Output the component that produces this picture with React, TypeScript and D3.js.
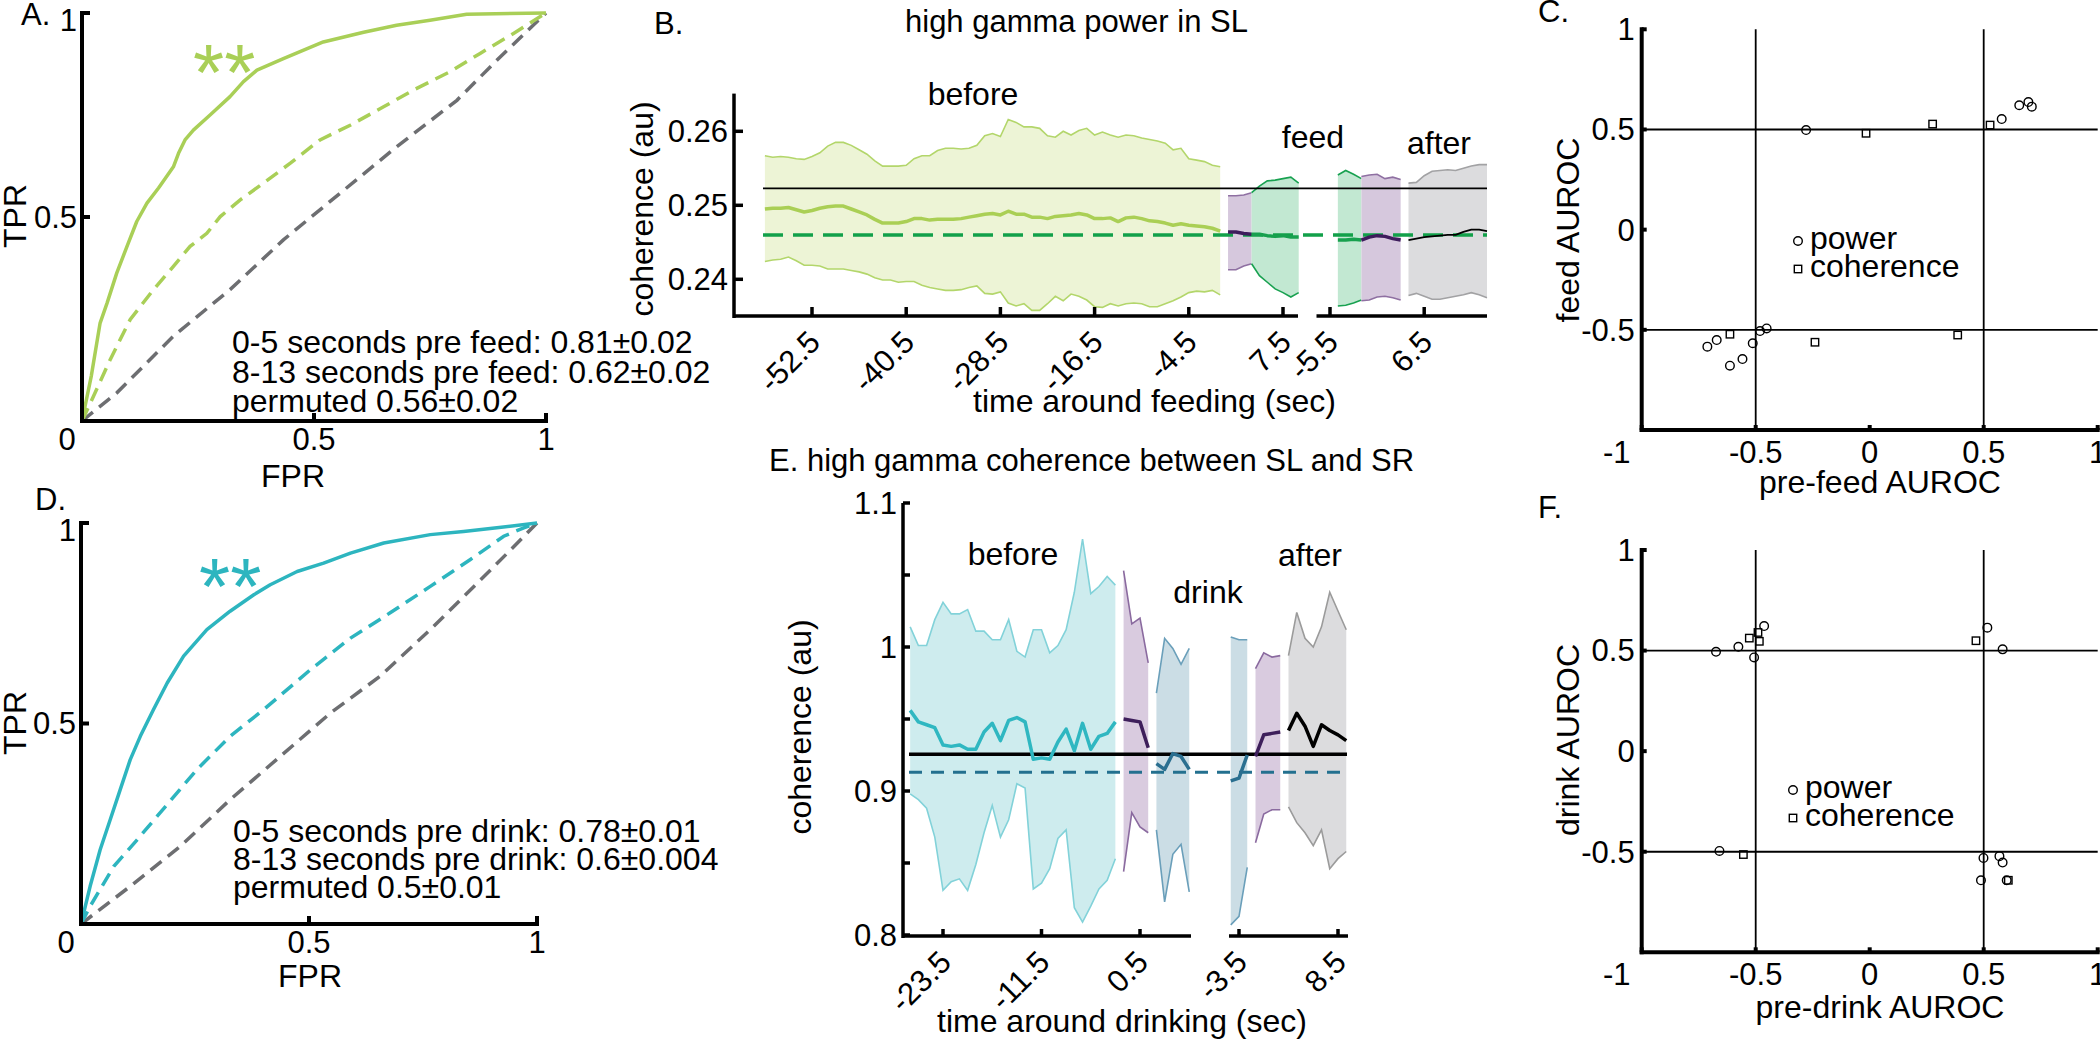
import React from 'react';
import * as d3 from 'd3';

const FONT = "'Liberation Sans', Arial, Helvetica, sans-serif";

// ---------- A: ROC around feeding ----------
const aSolidFpr = [0, 0.02, 0.039, 0.054, 0.075, 0.097, 0.118, 0.14, 0.165, 0.197, 0.208, 0.222, 0.24, 0.276, 0.319, 0.348, 0.377, 0.434, 0.52, 0.607, 0.678, 0.75, 0.829, 1];
const aSolidTpr = [0, 0.11, 0.24, 0.289, 0.363, 0.428, 0.489, 0.534, 0.571, 0.623, 0.656, 0.689, 0.713, 0.75, 0.795, 0.832, 0.86, 0.888, 0.929, 0.953, 0.97, 0.982, 0.997, 1];
const aDashFpr = [0, 0.025, 0.061, 0.104, 0.154, 0.197, 0.233, 0.269, 0.298, 0.341, 0.391, 0.449, 0.513, 0.578, 0.65, 0.714, 0.793, 0.858, 0.93, 1];
const aDashTpr = [0, 0.061, 0.151, 0.249, 0.322, 0.379, 0.428, 0.46, 0.501, 0.542, 0.583, 0.632, 0.689, 0.725, 0.77, 0.811, 0.856, 0.901, 0.95, 1];
const aChanceFpr = [0, 0.075, 0.197, 0.319, 0.434, 0.556, 0.678, 0.808, 0.894, 1];
const aChanceTpr = [0, 0.069, 0.208, 0.322, 0.444, 0.558, 0.672, 0.786, 0.884, 1];
const aNotes = ['0-5 seconds pre feed: 0.81\u00b10.02', '8-13 seconds pre feed: 0.62\u00b10.02', 'permuted 0.56\u00b10.02'];

// ---------- D: ROC around drinking ----------
const dSolidFpr = [0, 0.02, 0.042, 0.064, 0.086, 0.108, 0.13, 0.159, 0.189, 0.225, 0.276, 0.327, 0.379, 0.415, 0.474, 0.532, 0.591, 0.664, 0.766, 0.839, 0.912, 1];
const dSolidTpr = [0, 0.094, 0.185, 0.26, 0.335, 0.41, 0.468, 0.535, 0.601, 0.668, 0.734, 0.78, 0.821, 0.846, 0.879, 0.9, 0.925, 0.95, 0.971, 0.979, 0.988, 1];
const dDashFpr = [0, 0.02, 0.072, 0.123, 0.189, 0.254, 0.327, 0.401, 0.503, 0.591, 0.678, 0.766, 0.854, 0.927, 0.971, 1];
const dDashTpr = [0, 0.044, 0.144, 0.21, 0.298, 0.385, 0.468, 0.535, 0.634, 0.713, 0.776, 0.842, 0.909, 0.967, 0.988, 1];
const dChanceFpr = [0, 0.108, 0.218, 0.327, 0.437, 0.547, 0.656, 0.766, 0.877, 0.95, 1];
const dChanceTpr = [0, 0.094, 0.194, 0.31, 0.418, 0.526, 0.618, 0.734, 0.859, 0.942, 1];
const dNotes = ['0-5 seconds pre drink: 0.78\u00b10.01', '8-13 seconds pre drink: 0.6\u00b10.004', 'permuted 0.5\u00b10.01'];

const rocTicks = [0, 0.5, 1];

// ---------- B: high gamma power in SL (1 s bins) ----------
const bBeforeMean = [0.2495, 0.2496, 0.2496, 0.2497, 0.2494, 0.2491, 0.2493, 0.2496, 0.2498, 0.2499, 0.2499, 0.2495, 0.2491, 0.2487, 0.2481, 0.2476, 0.2476, 0.2476, 0.2478, 0.2482, 0.2482, 0.248, 0.2481, 0.2481, 0.2481, 0.2482, 0.2484, 0.2486, 0.2488, 0.2489, 0.2487, 0.2492, 0.2488, 0.2488, 0.2484, 0.2484, 0.2482, 0.2485, 0.2486, 0.2487, 0.2489, 0.2487, 0.2482, 0.2482, 0.2483, 0.2478, 0.2483, 0.2484, 0.2482, 0.2479, 0.2478, 0.2476, 0.2473, 0.2475, 0.2473, 0.2472, 0.2471, 0.2469, 0.2465];
const bBeforeUpper = [0.2567, 0.2565, 0.2566, 0.2565, 0.2563, 0.2562, 0.2566, 0.2571, 0.258, 0.2585, 0.2585, 0.2581, 0.2575, 0.2569, 0.256, 0.2553, 0.2553, 0.2553, 0.2554, 0.2563, 0.2567, 0.2567, 0.2574, 0.2577, 0.2577, 0.2576, 0.2577, 0.2581, 0.2594, 0.2597, 0.2593, 0.2616, 0.2612, 0.2606, 0.2606, 0.2604, 0.2594, 0.2592, 0.26, 0.2595, 0.2601, 0.2604, 0.2595, 0.2599, 0.2595, 0.2592, 0.2595, 0.2594, 0.2591, 0.2589, 0.2587, 0.2584, 0.2575, 0.2577, 0.2563, 0.2561, 0.2559, 0.2554, 0.2552];
const bBeforeLower = [0.2424, 0.2426, 0.2427, 0.243, 0.2425, 0.2419, 0.2419, 0.2418, 0.2414, 0.2414, 0.2414, 0.2412, 0.241, 0.2407, 0.2402, 0.2399, 0.2399, 0.2396, 0.2397, 0.2397, 0.2392, 0.2389, 0.2387, 0.2385, 0.2385, 0.2386, 0.2389, 0.2391, 0.2381, 0.238, 0.2383, 0.2368, 0.2364, 0.2367, 0.2358, 0.2358, 0.2367, 0.2377, 0.2371, 0.238, 0.2377, 0.2372, 0.2363, 0.2362, 0.2367, 0.2364, 0.2367, 0.2368, 0.2367, 0.2363, 0.2363, 0.2367, 0.2371, 0.2376, 0.2382, 0.2384, 0.2383, 0.2385, 0.2379];
const bOnsetMean = [0.2464, 0.2464, 0.2462, 0.2461];
const bOnsetUpper = [0.2513, 0.2513, 0.2514, 0.2517];
const bOnsetLower = [0.2413, 0.2413, 0.2418, 0.2421];
const bFeedMean = [0.2461, 0.2461, 0.2459, 0.2458, 0.2459, 0.2457, 0.2457];
const bFeedUpper = [0.2517, 0.2526, 0.2533, 0.2534, 0.2536, 0.2538, 0.253];
const bFeedLower = [0.2421, 0.2405, 0.2396, 0.2387, 0.2382, 0.2376, 0.2382];
const bEndMean = [0.2453, 0.2453, 0.2454, 0.2453];
const bEndUpper = [0.2541, 0.2547, 0.2542, 0.2536];
const bEndLower = [0.2364, 0.2365, 0.2368, 0.2372];
const bOffsetMean = [0.2453, 0.2457, 0.2459, 0.2458, 0.2455, 0.2453];
const bOffsetUpper = [0.2539, 0.2541, 0.2542, 0.2536, 0.2538, 0.2535];
const bOffsetLower = [0.2371, 0.2372, 0.2376, 0.2377, 0.2375, 0.2372];
const bAfterMean = [0.2453, 0.2455, 0.2457, 0.2458, 0.2459, 0.246, 0.246, 0.2464, 0.2467, 0.2467, 0.2465];
const bAfterUpper = [0.253, 0.2531, 0.254, 0.2546, 0.2547, 0.2548, 0.2547, 0.255, 0.2553, 0.2555, 0.2555];
const bAfterLower = [0.2378, 0.2381, 0.2377, 0.2373, 0.2373, 0.2375, 0.2377, 0.2379, 0.2382, 0.2379, 0.2375];
const bBaseline = 0.2523;
const bShuffled = 0.246;
const bTicksSeg1 = [-52.5, -40.5, -28.5, -16.5, -4.5, 7.5];
const bTicksSeg2 = [-5.5, 6.5];
const bYTicks = [0.24, 0.25, 0.26];

// ---------- E: high gamma coherence SL-SR (1 s bins) ----------
const eBeforeMean = [0.956, 0.948, 0.946, 0.944, 0.932, 0.931, 0.932, 0.929, 0.929, 0.941, 0.947, 0.935, 0.949, 0.951, 0.948, 0.922, 0.923, 0.922, 0.934, 0.943, 0.928, 0.947, 0.929, 0.938, 0.94, 0.948];
const eBeforeUpper = [1.014, 1.001, 1.001, 1.019, 1.031, 1.023, 1.023, 1.026, 1.011, 1.011, 1.005, 1.005, 1.019, 0.997, 0.993, 1.012, 1.012, 0.996, 1.001, 1.012, 1.038, 1.075, 1.037, 1.042, 1.049, 1.043];
const eBeforeLower = [0.898, 0.894, 0.888, 0.868, 0.831, 0.837, 0.839, 0.831, 0.849, 0.871, 0.89, 0.868, 0.88, 0.905, 0.902, 0.832, 0.836, 0.846, 0.867, 0.873, 0.819, 0.809, 0.82, 0.832, 0.838, 0.853];
const eOnsetMean = [0.95, 0.949, 0.948, 0.93];
const eOnsetUpper = [1.053, 1.016, 1.02, 0.989];
const eOnsetLower = [0.844, 0.885, 0.875, 0.871];
const eDrinkMean = [0.919, 0.915, 0.926, 0.924, 0.915];
const eDrinkUpper = [0.968, 1.006, 0.999, 0.988, 0.999];
const eDrinkLower = [0.873, 0.823, 0.856, 0.863, 0.83];
const eEndMean = [0.907, 0.909, 0.925];
const eEndUpper = [1.007, 1.005, 1.005];
const eEndLower = [0.807, 0.813, 0.847];
const eOffsetMean = [0.924, 0.939, 0.94, 0.941];
const eOffsetUpper = [0.985, 0.996, 0.993, 0.994];
const eOffsetLower = [0.864, 0.884, 0.887, 0.887];
const eAfterMean = [0.942, 0.954, 0.945, 0.931, 0.946, 0.942, 0.939, 0.935];
const eAfterUpper = [0.994, 1.024, 1.006, 1.0, 1.014, 1.038, 1.025, 1.012];
const eAfterLower = [0.889, 0.878, 0.871, 0.862, 0.873, 0.846, 0.853, 0.858];
const eBaseline = 0.9255;
const eShuffled = 0.913;
const eTicksSeg1 = [-23.5, -11.5, 0.5];
const eTicksSeg2 = [-3.5, 8.5];
const eYTicks = [0.8, 0.85, 0.9, 0.95, 1, 1.05, 1.1];
const eYLabels = [0.8, 0.9, 1, 1.1];

// ---------- C / F: AUROC scatter ----------
const cPowerX = [-0.279, 0.579, 0.656, 0.696, 0.711, -0.712, -0.671, -0.613, -0.558, -0.513, -0.481, -0.452];
const cPowerY = [0.497, 0.552, 0.621, 0.637, 0.614, -0.584, -0.551, -0.679, -0.646, -0.567, -0.506, -0.493];
const cCohX = [-0.016, 0.276, 0.528, -0.613, -0.24, 0.386];
const cCohY = [0.481, 0.527, 0.522, -0.522, -0.562, -0.526];
const fPowerX = [-0.674, -0.576, -0.507, -0.463, 0.516, 0.583, -0.659, 0.499, 0.569, 0.583, 0.488, 0.601];
const fPowerY = [0.494, 0.519, 0.466, 0.622, 0.614, 0.506, -0.496, -0.531, -0.522, -0.554, -0.642, -0.642];
const fCohX = [-0.528, -0.49, -0.484, 0.466, -0.554, 0.608];
const fCohY = [0.562, 0.59, 0.546, 0.549, -0.514, -0.642];
const aurocTicks = [-1, -0.5, 0, 0.5, 1];
const aurocRefs = [-0.5, 0.5];

const zip = (xs, ys) => xs.map((x, i) => [x, ys[i]]);
const fmt = (v) => String(+v.toFixed(3));

function RocPanel({ box, solid, dashed, chance, color, notes, notesX, notesY, starX, starY, tag, tagX, tagY, tickY, fprX, fprY, tprY }) {
  const x = d3.scaleLinear().domain([0, 1]).range([box.x0, box.x1]);
  const y = d3.scaleLinear().domain([0, 1]).range([box.y0, box.yTop]);
  const line = d3.line().x((d) => x(d[0])).y((d) => y(d[1]));
  return (
    <g>
      <path d={line(chance)} fill="none" stroke="#6d6e71" strokeWidth={3.5} strokeDasharray="14 8" />
      <path d={line(dashed)} fill="none" stroke={color} strokeWidth={3.5} strokeDasharray="14 8" />
      <path d={line(solid)} fill="none" stroke={color} strokeWidth={3.5} strokeLinejoin="round" />
      <line x1={box.x0} x2={box.x0} y1={box.yTop - 2} y2={box.y0 + 2} stroke="#000" strokeWidth={4} />
      <line x1={box.x0 - 2} x2={box.x1 + 2} y1={box.y0} y2={box.y0} stroke="#000" strokeWidth={4} />
      {rocTicks.filter((t) => t > 0).map((t) => (
        <g key={t}>
          <line x1={box.x0} x2={box.x0 + 8} y1={y(t)} y2={y(t)} stroke="#000" strokeWidth={4} />
          <line x1={x(t)} x2={x(t)} y1={box.y0} y2={box.y0 - 8} stroke="#000" strokeWidth={4} />
          <text x={box.x0 - 5} y={y(t) + (t === 1 ? 7 : 0)} dy="0.35em" textAnchor="end" fontSize={31}>{fmt(t)}</text>
        </g>
      ))}
      {rocTicks.map((t) => (
        <text key={'x' + t} x={x(t) - (t === 0 ? 15 : 0)} y={tickY} textAnchor="middle" fontSize={31}>{fmt(t)}</text>
      ))}
      <text x={fprX} y={fprY} textAnchor="middle" fontSize={32}>FPR</text>
      <text transform={`translate(26,${tprY}) rotate(-90)`} textAnchor="middle" fontSize={32}>TPR</text>
      {notes.map((n, i) => (
        <text key={n} x={notesX} y={notesY[i]} fontSize={32}>{n}</text>
      ))}
      <text x={starX} y={starY} fontSize={80} fill={color}>**</text>
      <text x={tagX} y={tagY} fontSize={31}>{tag}</text>
    </g>
  );
}

function BandPanel({ segs, yDomain, yRange, yTicks, yLabels, axisX, axisTop, axisY, bands, refs, tickLen, edgeW }) {
  const xs = segs.map((s) => d3.scaleLinear().domain(s.domain).range(s.range));
  const y = d3.scaleLinear().domain(yDomain).range(yRange);
  const pts = (b) => b.mean.map((m, i) => ({ t: b.t0 + i, m, hi: b.hi[i], lo: b.lo[i] }));
  return (
    <g>
      {bands.map((b, k) => {
        const xf = xs[b.seg];
        const p = pts(b);
        const area = d3.area().x((d) => xf(d.t)).y0((d) => y(d.lo)).y1((d) => y(d.hi));
        const up = d3.line().x((d) => xf(d.t)).y((d) => y(d.hi));
        const lo = d3.line().x((d) => xf(d.t)).y((d) => y(d.lo));
        return (
          <g key={'band' + k}>
            <path d={area(p)} fill={b.fill} />
            <path d={up(p)} fill="none" stroke={b.edge} strokeWidth={edgeW} />
            <path d={lo(p)} fill="none" stroke={b.edge} strokeWidth={edgeW} />
          </g>
        );
      })}
      {refs.map((r, k) => (
        <line key={'ref' + k} x1={r.x1} x2={r.x2} y1={y(r.v)} y2={y(r.v)} stroke={r.stroke} strokeWidth={r.width} strokeDasharray={r.dash} />
      ))}
      {bands.map((b, k) => {
        const xf = xs[b.seg];
        const mean = d3.line().x((d) => xf(d.t)).y((d) => y(d.m));
        return <path key={'mean' + k} d={mean(pts(b))} fill="none" stroke={b.line} strokeWidth={b.lw} strokeLinejoin="round" />;
      })}
      <line x1={axisX} x2={axisX} y1={axisTop} y2={axisY + 2} stroke="#000" strokeWidth={3.5} />
      {yTicks.map((t) => (
        <line key={'yt' + t} x1={axisX} x2={axisX + tickLen} y1={y(t)} y2={y(t)} stroke="#000" strokeWidth={3.5} />
      ))}
      {yLabels.map((t) => (
        <text key={'yl' + t} x={axisX - 6} y={y(t)} dy="0.35em" textAnchor="end" fontSize={31}>{fmt(t)}</text>
      ))}
      {segs.map((s, k) => (
        <g key={'seg' + k}>
          <line x1={s.axis[0]} x2={s.axis[1]} y1={axisY} y2={axisY} stroke="#000" strokeWidth={3.5} />
          {s.ticks.map((t) => (
            <g key={t}>
              <line x1={xs[k](t)} x2={xs[k](t)} y1={axisY} y2={axisY - tickLen} stroke="#000" strokeWidth={3.5} />
              <text transform={`translate(${xs[k](t) + 10},${axisY + 28}) rotate(-45)`} textAnchor="end" fontSize={31}>{fmt(t)}</text>
            </g>
          ))}
        </g>
      ))}
    </g>
  );
}

function ScatterPanel({ yRange, powerX, powerY, cohX, cohY, tickY, xlabel, xlabelY, ylabel, ylabelY, legendX, legendY, tag, tagY }) {
  const x = d3.scaleLinear().domain([-1, 1]).range([1641.7, 2097.7]);
  const y = d3.scaleLinear().domain([-1, 1]).range(yRange);
  const sq = 7.4;
  return (
    <g>
      {aurocRefs.map((r) => (
        <g key={r}>
          <line x1={x(r)} x2={x(r)} y1={y(1)} y2={y(-1)} stroke="#000" strokeWidth={1.8} />
          <line x1={x(-1)} x2={x(1)} y1={y(r)} y2={y(r)} stroke="#000" strokeWidth={1.8} />
        </g>
      ))}
      {zip(powerX, powerY).map((d, i) => (
        <circle key={'p' + i} cx={x(d[0])} cy={y(d[1])} r={4.3} fill="none" stroke="#000" strokeWidth={1.4} />
      ))}
      {zip(cohX, cohY).map((d, i) => (
        <rect key={'c' + i} x={x(d[0]) - sq / 2} y={y(d[1]) - sq / 2} width={sq} height={sq} fill="none" stroke="#000" strokeWidth={1.4} />
      ))}
      <line x1={x(-1)} x2={x(-1)} y1={y(1) - 2} y2={y(-1) + 2} stroke="#000" strokeWidth={4} />
      <line x1={x(-1) - 2} x2={x(1) + 2} y1={y(-1)} y2={y(-1)} stroke="#000" strokeWidth={4} />
      {aurocTicks.map((t) => (
        <g key={t}>
          <line x1={x(t)} x2={x(t)} y1={y(-1)} y2={y(-1) - 5} stroke="#000" strokeWidth={4} />
          <text x={x(t) - (t === -1 ? 25 : 0)} y={tickY} textAnchor="middle" fontSize={31}>{fmt(t)}</text>
          {t > -1 && <line x1={x(-1)} x2={x(-1) + 5} y1={y(t)} y2={y(t)} stroke="#000" strokeWidth={4} />}
          {t > -1 && <text x={x(-1) - 7} y={y(t)} dy="0.35em" textAnchor="end" fontSize={31}>{fmt(t)}</text>}
        </g>
      ))}
      <text x={1880} y={xlabelY} textAnchor="middle" fontSize={32}>{xlabel}</text>
      <text transform={`translate(1579,${ylabelY}) rotate(-90)`} textAnchor="middle" fontSize={32}>{ylabel}</text>
      <circle cx={legendX} cy={legendY} r={4.3} fill="none" stroke="#000" strokeWidth={1.4} />
      <text x={legendX + 12} y={legendY + 8} fontSize={32}>power</text>
      <rect x={legendX - sq / 2} y={legendY + 28 - sq / 2} width={sq} height={sq} fill="none" stroke="#000" strokeWidth={1.4} />
      <text x={legendX + 12} y={legendY + 36} fontSize={32}>coherence</text>
      <text x={1538} y={tagY} fontSize={31}>{tag}</text>
    </g>
  );
}

export default function App() {
  const green = '#a9cf57';
  const cyan = '#2db5bf';
  const bBands = [
    { seg: 0, t0: -58.5, mean: bBeforeMean, hi: bBeforeUpper, lo: bBeforeLower, fill: '#edf4d6', edge: '#b3d66b', line: '#aacf55', lw: 3.5 },
    { seg: 0, t0: 0.5, mean: bOnsetMean, hi: bOnsetUpper, lo: bOnsetLower, fill: '#d6c8dd', edge: '#8f70a2', line: '#3e1c5c', lw: 3.5 },
    { seg: 0, t0: 3.5, mean: bFeedMean, hi: bFeedUpper, lo: bFeedLower, fill: '#c2e8d2', edge: '#18a150', line: '#17a04e', lw: 3.5 },
    { seg: 1, t0: -4.5, mean: bEndMean, hi: bEndUpper, lo: bEndLower, fill: '#c2e8d2', edge: '#18a150', line: '#17a04e', lw: 3.5 },
    { seg: 1, t0: -1.5, mean: bOffsetMean, hi: bOffsetUpper, lo: bOffsetLower, fill: '#d6c8dd', edge: '#8f70a2', line: '#3e1c5c', lw: 3.5 },
    { seg: 1, t0: 4.5, mean: bAfterMean, hi: bAfterUpper, lo: bAfterLower, fill: '#dcdcde', edge: '#a2a2a4', line: '#000', lw: 1.8 },
  ];
  const eBands = [
    { seg: 0, t0: -27.5, mean: eBeforeMean, hi: eBeforeUpper, lo: eBeforeLower, fill: '#ceecee', edge: '#82d2d9', line: '#2fb7c1', lw: 3.5 },
    { seg: 0, t0: -1.5, mean: eOnsetMean, hi: eOnsetUpper, lo: eOnsetLower, fill: '#d9cbdf', edge: '#8a6a9f', line: '#3e1f5b', lw: 3.5 },
    { seg: 0, t0: 2.5, mean: eDrinkMean, hi: eDrinkUpper, lo: eDrinkLower, fill: '#cbdde5', edge: '#6a9fba', line: '#2a6f90', lw: 3.5 },
    { seg: 1, t0: -4.5, mean: eEndMean, hi: eEndUpper, lo: eEndLower, fill: '#cbdde5', edge: '#6a9fba', line: '#2a6f90', lw: 3.5 },
    { seg: 1, t0: -1.5, mean: eOffsetMean, hi: eOffsetUpper, lo: eOffsetLower, fill: '#d9cbdf', edge: '#8a6a9f', line: '#3e1f5b', lw: 3.5 },
    { seg: 1, t0: 2.5, mean: eAfterMean, hi: eAfterUpper, lo: eAfterLower, fill: '#dcdcde', edge: '#9b9b9b', line: '#000', lw: 3.5 },
  ];

  return (
    <svg width={2100} height={1041} viewBox="0 0 2100 1041" fontFamily={FONT} style={{ position: 'absolute', left: 0, top: 0 }}>
      <rect width={2100} height={1041} fill="#fff" />

      <RocPanel box={{ x0: 82, x1: 546, yTop: 13, y0: 421 }} solid={zip(aSolidFpr, aSolidTpr)} dashed={zip(aDashFpr, aDashTpr)} chance={zip(aChanceFpr, aChanceTpr)}
        color={green} notes={aNotes} notesX={232} notesY={[353, 383, 412]} starX={193} starY={100} tag="A." tagX={21} tagY={25}
        tickY={450} fprX={293} fprY={487} tprY={216} />
      <RocPanel box={{ x0: 81, x1: 537, yTop: 523, y0: 924 }} solid={zip(dSolidFpr, dSolidTpr)} dashed={zip(dDashFpr, dDashTpr)} chance={zip(dChanceFpr, dChanceTpr)}
        color={cyan} notes={dNotes} notesX={233} notesY={[842, 870, 898]} starX={199} starY={614} tag="D." tagX={35} tagY={510}
        tickY={953} fprX={310} fprY={987} tprY={723} />

      {/* B */}
      <BandPanel
        segs={[
          { domain: [-52.5, 7.5], range: [812, 1283], axis: [734, 1298], ticks: bTicksSeg1 },
          { domain: [-5.5, 6.5], range: [1330, 1424.2], axis: [1316.5, 1487], ticks: bTicksSeg2 },
        ]}
        yDomain={[0.24, 0.26]} yRange={[279.3, 131.3]} yTicks={bYTicks} yLabels={bYTicks}
        axisX={734} axisTop={93.6} axisY={316} bands={bBands} tickLen={9} edgeW={1.6}
        refs={[
          { v: bBaseline, x1: 763, x2: 1487, stroke: '#000', width: 1.8 },
          { v: bShuffled, x1: 763, x2: 1487, stroke: '#12a04a', width: 3.5, dash: '20 10' },
        ]}
      />
      <text x={654} y={34} fontSize={31}>B.</text>
      <text x={905} y={32} fontSize={31}>high gamma power in SL</text>
      <text x={973} y={105} textAnchor="middle" fontSize={32}>before</text>
      <text x={1313} y={148} textAnchor="middle" fontSize={32}>feed</text>
      <text x={1439} y={154} textAnchor="middle" fontSize={32}>after</text>
      <text transform="translate(653,209) rotate(-90)" textAnchor="middle" fontSize={32}>coherence (au)</text>
      <text x={973} y={412} fontSize={32}>time around feeding (sec)</text>

      {/* E */}
      <BandPanel
        segs={[
          { domain: [-23.5, 0.5], range: [943, 1140], axis: [903, 1191], ticks: eTicksSeg1 },
          { domain: [-3.5, 8.5], range: [1239, 1338], axis: [1229, 1348], ticks: eTicksSeg2 },
        ]}
        yDomain={[0.9, 1]} yRange={[791, 647]} yTicks={eYTicks} yLabels={eYLabels}
        axisX={903} axisTop={503} axisY={936} bands={eBands} tickLen={7} edgeW={1.6}
        refs={[
          { v: eBaseline, x1: 909, x2: 1347, stroke: '#000', width: 3.5 },
          { v: eShuffled, x1: 909, x2: 1342, stroke: '#23708f', width: 3, dash: '13 9' },
        ]}
      />
      <text x={769} y={471} fontSize={31}>E. high gamma coherence between SL and SR</text>
      <text x={1013} y={565} textAnchor="middle" fontSize={32}>before</text>
      <text x={1208} y={603} textAnchor="middle" fontSize={32}>drink</text>
      <text x={1310} y={566} textAnchor="middle" fontSize={32}>after</text>
      <text transform="translate(811,727) rotate(-90)" textAnchor="middle" fontSize={32}>coherence (au)</text>
      <text x={937} y={1032} fontSize={32}>time around drinking (sec)</text>

      <ScatterPanel yRange={[430, 29.3]} powerX={cPowerX} powerY={cPowerY} cohX={cCohX} cohY={cCohY} tickY={463}
        xlabel="pre-feed AUROC" xlabelY={493} ylabel="feed AUROC" ylabelY={230} legendX={1798} legendY={241} tag="C." tagY={22} />
      <ScatterPanel yRange={[952.3, 550]} powerX={fPowerX} powerY={fPowerY} cohX={fCohX} cohY={fCohY} tickY={985}
        xlabel="pre-drink AUROC" xlabelY={1018} ylabel="drink AUROC" ylabelY={740} legendX={1793} legendY={790} tag="F." tagY={518} />
    </svg>
  );
}
